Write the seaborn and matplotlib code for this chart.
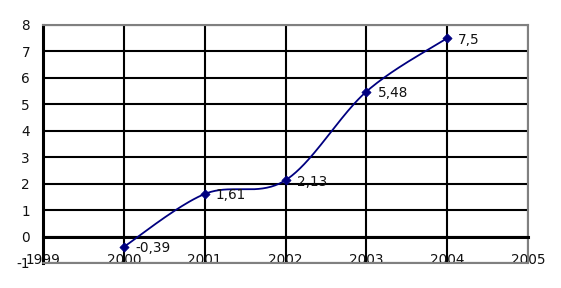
import numpy as np
import pandas as pd
import matplotlib
matplotlib.use("Agg")
import matplotlib.pyplot as plt
import seaborn as sns

years = [2000, 2001, 2002, 2003, 2004]
values = [-0.39, 1.61, 2.13, 5.48, 7.5]
labels = ["-0,39", "1,61", "2,13", "5,48", "7,5"]
xticks = [1999, 2000, 2001, 2002, 2003, 2004, 2005]
yticks = [-1, 0, 1, 2, 3, 4, 5, 6, 7, 8]

NAVY = "#000080"

# Excel-like smoothed curve (Bezier with Catmull-Rom control points) through the data points
def smooth(xs, ys, n=40):
    P = np.column_stack([xs, ys]).astype(float)
    out = []
    m = len(P)
    for i in range(m - 1):
        p0 = P[max(i - 1, 0)]
        p1 = P[i]
        p2 = P[i + 1]
        p3 = P[min(i + 2, m - 1)]
        c1 = p1 + (p2 - p0) / 6.0
        c2 = p2 - (p3 - p1) / 6.0
        t = np.linspace(0, 1, n)[:, None]
        seg = ((1 - t) ** 3) * p1 + 3 * ((1 - t) ** 2) * t * c1 + 3 * (1 - t) * t ** 2 * c2 + t ** 3 * p2
        out.append(seg if i == 0 else seg[1:])
    return np.vstack(out)

sns.set_style("white")
plt.rcParams["font.family"] = ["DejaVu Sans"]

fig = plt.figure(figsize=(5.61, 2.88), dpi=100)
ax = fig.add_axes([43 / 561, 25 / 288, 485 / 561, 238 / 288])

curve = smooth(years, values)
df_curve = pd.DataFrame({"x": curve[:, 0], "y": curve[:, 1]})
sns.lineplot(data=df_curve, x="x", y="y", sort=False, estimator=None,
             color=NAVY, linewidth=1.3, ax=ax, zorder=4)
df = pd.DataFrame({"year": years, "value": values})
sns.scatterplot(data=df, x="year", y="value", marker="D", s=22, color=NAVY,
                edgecolor=NAVY, linewidth=0.5, ax=ax, zorder=5)

for x, y, t in zip(years, values, labels):
    ax.annotate(t, (x, y), xytext=(8, -1), textcoords="offset points",
                ha="left", va="center", fontsize=9.8, color="#111111", zorder=6)

ax.set_xlim(1999, 2005)
ax.set_ylim(-1, 8)
ax.set_xticks(xticks)
ax.set_yticks(yticks)
ax.set_xticklabels([str(v) for v in xticks])
ax.set_yticklabels([str(v) for v in yticks])
ax.set_xlabel("")
ax.set_ylabel("")

ax.grid(True, color="black", linewidth=1.5)
ax.set_axisbelow(True)

ax.spines["left"].set_color("black")
ax.spines["left"].set_linewidth(2.2)
ax.spines["bottom"].set_position(("data", 0))
ax.spines["bottom"].set_color("black")
ax.spines["bottom"].set_linewidth(2.2)
for s in ("top", "right"):
    ax.spines[s].set_visible(True)
    ax.spines[s].set_color("#808080")
    ax.spines[s].set_linewidth(1.5)
ax.axhline(-1, color="#808080", linewidth=1.5, zorder=3, clip_on=False)

ax.tick_params(axis="y", direction="out", length=4.3, width=2, color="black",
               pad=5, labelsize=9.8, labelcolor="#111111")
ax.tick_params(axis="x", direction="out", length=3.6, width=2, color="black",
               pad=8.0, labelsize=9.8, labelcolor="#111111")
for lab in ax.get_xticklabels():
    lab.set_zorder(10)

fig.savefig("out.png", dpi=100, facecolor="white")
